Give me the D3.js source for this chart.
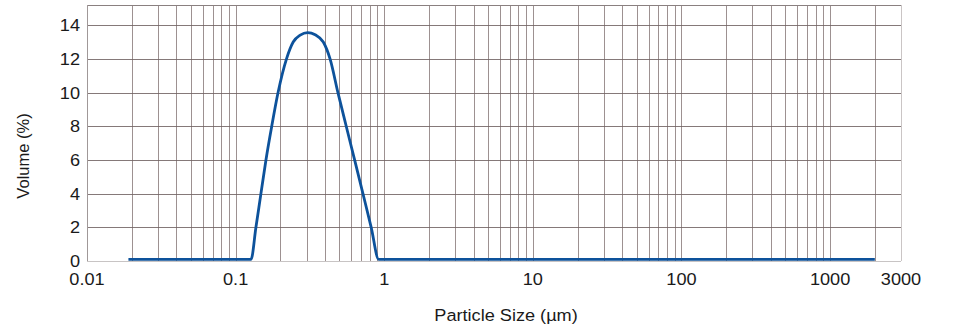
<!DOCTYPE html>
<html>
<head>
<meta charset="utf-8">
<script src="https://cdn.jsdelivr.net/npm/d3@7"></script>
<style>
  body { margin: 0; background: #fff; }
  text { font-family: "Liberation Sans", Arial, sans-serif; fill: #1a1a1a; }
</style>
</head>
<body>
<svg id="chart" width="960" height="325"></svg>
<script>
// particle size (µm) and volume (%)
var sizes   = [0.019, 0.127, 0.137, 0.148, 0.160, 0.175, 0.193, 0.220, 0.244, 0.272, 0.3055, 0.343, 0.389, 0.432, 0.488, 0.555, 0.632, 0.719, 0.817, 0.918, 2000];
var volumes = [0.1,   0.1,   2,     4,     6,     8,     10,    12,    13,    13.41, 13.56,  13.43, 13,    12,    10,    8,     6,     4,     2,     0.1,   0.1];

var yTicks = [0, 2, 4, 6, 8, 10, 12, 14];
var xTicks = [0.01, 0.1, 1, 10, 100, 1000, 3000];
var xTickLabels = ["0.01", "0.1", "1", "10", "100", "1000", "3000"];

var margin = {top: 5, left: 87, right: 59, bottom: 64},
	width = 960 - margin.left - margin.right,
	height = 325 - margin.top - margin.bottom;

// the picture's text is a little wider than the font
var stretch = 1.1;

var svg = d3.select("#chart");
var g = svg.append("g")
	.attr("transform", "translate(" + margin.left + "," + margin.top + ")");

var x = d3.scaleLog()
	.domain([0.01, 3000])
	.range([0, width]);

var y = d3.scaleLinear()
	.domain([0, 15.2])
	.range([height, 0]);

// log grid lines 1..9 x 10^n
var gridX = [];
for (var e = -2; e <= 3; e++) {
	for (var k = 1; k <= 9; k++) {
		var v = k * Math.pow(10, e);
		if (v > 0.01 && v <= 3000) gridX.push(v);
	}
}

g.selectAll(".vgrid")
	.data(gridX)
	.enter()
	.append("line")
	.attr("class", "vgrid")
	.attr("x1", function(d) { return Math.round(x(d)) + 0.5; })
	.attr("x2", function(d) { return Math.round(x(d)) + 0.5; })
	.attr("y1", 0)
	.attr("y2", height)
	.attr("stroke", function(d) { return d == 3000 ? "#bdb6b6" : "#847575"; })
	.attr("stroke-opacity", 0.8);

g.selectAll(".hgrid")
	.data(yTicks.slice(1))
	.enter()
	.append("line")
	.attr("class", "hgrid")
	.attr("x1", 0)
	.attr("x2", width)
	.attr("y1", function(d) { return Math.round(y(d)) + 0.5; })
	.attr("y2", function(d) { return Math.round(y(d)) + 0.5; })
	.attr("stroke", "#706262")
	.attr("stroke-opacity", 0.85);

// frame
g.append("line").attr("x1", 0).attr("x2", width).attr("y1", 0.5).attr("y2", 0.5).attr("stroke", "#8a8080");
g.append("line").attr("x1", 0).attr("x2", width).attr("y1", height + 0.5).attr("y2", height + 0.5).attr("stroke", "#c8c4c4");
g.append("line").attr("x1", 0.5).attr("x2", 0.5).attr("y1", 0).attr("y2", height).attr("stroke", "#a09898");

// tick labels
g.selectAll(".ylab")
	.data(yTicks)
	.enter()
	.append("text")
	.attr("class", "ylab")
	.attr("transform", function(d) { return "translate(-7," + y(d) + ") scale(" + stretch + ",1)"; })
	.attr("dy", "0.36em")
	.attr("text-anchor", "end")
	.style("font-size", "16.5px")
	.text(function(d) { return d; });

g.selectAll(".xlab")
	.data(xTicks)
	.enter()
	.append("text")
	.attr("class", "xlab")
	.attr("transform", function(d) { return "translate(" + x(d) + "," + (height + 24) + ") scale(" + stretch + ",1)"; })
	.attr("text-anchor", "middle")
	.style("font-size", "16.5px")
	.text(function(d, i) { return xTickLabels[i]; });

// distribution curve
var line = d3.line()
	.x(function(d) { return x(d[0]); })
	.y(function(d) { return y(d[1]); })
	.curve(d3.curveMonotoneX);

g.append("path")
	.datum(d3.zip(sizes, volumes))
	.attr("d", line)
	.attr("fill", "none")
	.attr("stroke", "#0d529b")
	.attr("stroke-width", 2.8)
	.attr("stroke-linejoin", "round");

// axis titles
svg.append("text")
	.attr("transform", "translate(506,321) scale(" + stretch + ",1)")
	.attr("text-anchor", "middle")
	.style("font-size", "16.5px")
	.text("Particle Size (µm)");

svg.append("text")
	.attr("transform", "translate(29,156) rotate(-90)")
	.attr("text-anchor", "middle")
	.style("font-size", "16.5px")
	.text("Volume (%)");
</script>
</body>
</html>
